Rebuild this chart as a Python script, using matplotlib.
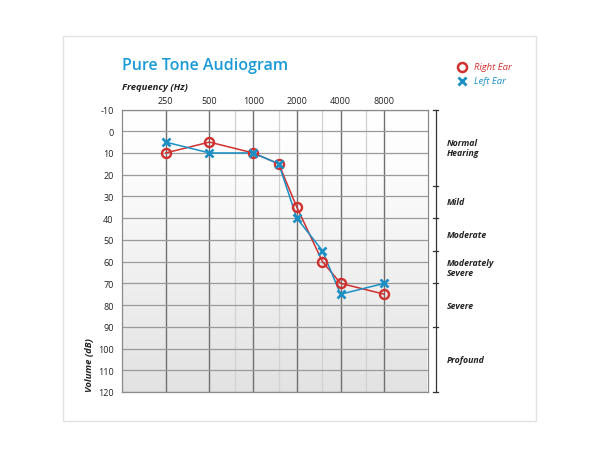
import numpy as np
import matplotlib
matplotlib.use("Agg")
import matplotlib.pyplot as plt
from matplotlib.patches import Rectangle
from matplotlib.colors import LinearSegmentedColormap

plt.rcParams["font.family"] = ["Open Sans", "DejaVu Sans"]

# data
freqs = [250, 500, 1000, 1500, 2000, 3000, 4000, 8000]
right_ear = [10, 5, 10, 15, 35, 60, 70, 75]
left_ear = [5, 10, 10, 15, 40, 55, 75, 70]
major_freqs = [250, 500, 1000, 2000, 4000, 8000]
minor_freqs = [750, 1500, 3000, 6000]
db_ticks = list(range(-10, 130, 10))
band_edges = [-10, 25, 40, 55, 70, 90, 120]
band_labels = ["Normal\nHearing", "Mild", "Moderate", "Moderately\nSevere", "Severe", "Profound"]

RED = "#d0302e"
BLUE = "#1a8fc6"
TITLE = "#1a9ad6"
GRID = "#9a9a9a"
TXT = "#222222"

fig = plt.figure(figsize=(6, 4.6), dpi=100)
fig.patch.set_facecolor("white")
fig.add_artist(Rectangle((63 / 600, 1 - 422 / 460), 473 / 600, 385 / 460, transform=fig.transFigure,
                         facecolor="white", edgecolor="#e2e2e2", linewidth=1.0, zorder=-5))

ax = fig.add_axes([122 / 600, 1 - 393 / 460, 306 / 600, 282.5 / 460])
ax.set_xscale("log", base=2)

# background gradient (white at top -> light grey at bottom)
cmap = LinearSegmentedColormap.from_list("bg", [(0, "#ffffff"), (0.2, "#fdfdfd"), (1, "#e2e2e2")])
grad = np.linspace(0, 1, 256).reshape(-1, 1)
ax.imshow(grad, cmap=cmap, aspect="auto", extent=(125, 16000, 120, -10), zorder=0)
ax.set_xlim(125, 16000)
ax.set_ylim(120, -10)

# grid
for f in minor_freqs:
    ax.axvline(f, color="#d2d2d2", lw=0.9, zorder=1)
for f in major_freqs:
    ax.axvline(f, color="#707070", lw=1.0, zorder=2)
for d in db_ticks:
    ax.axhline(d, color=GRID, lw=0.9, zorder=2)

for s in ax.spines.values():
    s.set_color("#8a8a8a")
    s.set_linewidth(0.9)

ax.xaxis.set_ticks_position("top")
ax.set_xticks(major_freqs)
ax.set_xticklabels([str(f) for f in major_freqs])
ax.set_xticks([], minor=True)
ax.set_yticks(db_ticks)
ax.set_yticklabels([str(d) for d in db_ticks])
ax.tick_params(axis="x", length=0, labelsize=6.5, colors=TXT, pad=3)
ax.tick_params(axis="y", length=0, labelsize=6.5, colors=TXT, pad=6)

# series
ax.plot(freqs, right_ear, color=RED, lw=1.1, zorder=4)
ax.plot(freqs, left_ear, color=BLUE, lw=1.1, zorder=4)
ax.plot(freqs, right_ear, "o", ms=6.5, mfc="none", mec=RED, mew=1.7, zorder=5)
ax.plot(freqs, left_ear, "x", ms=5.5, mec=BLUE, mew=1.9, zorder=6)

# hearing-loss bracket on the right
bx = 1.025
tr = ax.get_yaxis_transform()
ax.plot([bx, bx], [band_edges[0], band_edges[-1]], color="#333333", lw=0.9, transform=tr, clip_on=False)
for e in band_edges:
    ax.plot([bx - 0.008, bx + 0.008], [e, e], color="#333333", lw=0.9, transform=tr, clip_on=False)
for lo, hi, lab in zip(band_edges[:-1], band_edges[1:], band_labels):
    ax.text(1.06, (lo + hi) / 2, lab, transform=tr, ha="left", va="center", fontsize=6.3,
            fontweight="bold", style="italic", color=TXT, linespacing=1.15, clip_on=False)

# titles and labels
fig.text(122 / 600, 1 - 66 / 460, "Pure Tone Audiogram", fontsize=11.5, fontweight="semibold",
         color=TITLE, ha="left", va="center")
fig.text(122 / 600, 1 - 88 / 460, "Frequency (Hz)", fontsize=6.8, fontweight="bold", style="italic",
         color=TXT, ha="left", va="center")
fig.text(90 / 600, 1 - 392 / 460, "Volume (dB)", fontsize=6.8, fontweight="bold", style="italic",
         color=TXT, rotation=90, ha="center", va="bottom")

# legend
fig.lines.append(plt.Line2D([462 / 600], [1 - 68 / 460], marker="o", ms=6.5, mfc="none", mec=RED,
                            mew=1.8, transform=fig.transFigure))
fig.lines.append(plt.Line2D([462 / 600], [1 - 82 / 460], marker="x", ms=5.5, mec=BLUE,
                            mew=2.0, transform=fig.transFigure))
fig.text(474 / 600, 1 - 68 / 460, "Right Ear", fontsize=6.8, style="italic", color=RED,
         ha="left", va="center")
fig.text(474 / 600, 1 - 82 / 460, "Left Ear", fontsize=6.8, style="italic", color=BLUE,
         ha="left", va="center")

fig.savefig("out.png", dpi=100)
